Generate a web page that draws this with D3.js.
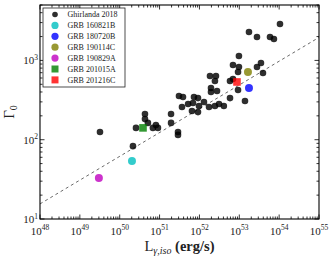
<!DOCTYPE html>
<html>
<head>
<meta charset="utf-8">
<script src="https://cdn.jsdelivr.net/npm/d3@7"></script>
<style>
  body { margin: 0; background: #fff; }
  text { font-family: 'Liberation Serif', 'DejaVu Serif', serif; fill: #222; }
</style>
</head>
<body>
<svg width="334" height="258"></svg>
<script>
// Ghirlanda 2018 sample: L_iso (erg/s) and Lorentz factor
const ghirlandaL = [3.2e49, 2.15e50, 2.56e50, 4.3e50, 4.3e50, 5.1e50, 6.8e50, 8.1e50, 9.1e50,
  1.94e51, 1.94e51, 2.9e51, 2.9e51, 3.07e51, 3.87e51, 3.65e51, 5.2e51, 6.9e51, 7.3e51, 9.2e51,
  9.75e51, 1.3e52, 1.74e52, 2.45e52, 3.1e52, 4.1e52, 6.5e51, 9.2e51, 1.84e52, 2.6e52, 2.45e52,
  1.95e52, 1.95e52, 2.76e52, 5.85e52, 6.95e52, 9.3e52, 5.85e52, 1.39e53, 9.8e52, 6.95e52,
  9.8e52, 9.3e52, 2.78e53, 3.5e53, 3.93e53, 1.75e53, 2.78e53, 5.9e53, 7.4e53, 1.05e54]
const ghirlandaG = [125, 83, 141, 211, 182, 163, 141, 153, 141,
  211, 163, 125, 115, 356, 345, 258, 282, 290, 345, 335,
  266, 299, 258, 266, 282, 266, 230, 223, 635, 635, 549,
  449, 399, 411, 549, 582, 424, 335, 308, 1135, 875,
  826, 714, 826, 927, 693, 2280, 1970, 1970, 1860, 2880]

// individual bursts
const grbNames = ['GRB 160821B', 'GRB 180720B', 'GRB 190114C', 'GRB 190829A', 'GRB 201015A', 'GRB 201216C']
const grbL = [2.03e50, 1.75e53, 1.65e53, 3.0e49, 3.84e50, 8.75e52]
const grbG = [53.8, 449, 714, 32.9, 141, 535]

// dashed relation, end points
const fitL = [1e48, 1e55]
const fitG = [15.5, 1950]

const xTicks = [1e48, 1e49, 1e50, 1e51, 1e52, 1e53, 1e54, 1e55]
const yTicks = [1e1, 1e2, 1e3]

const grbStyle = {
  'GRB 160821B': { color: '#00bfbf', shape: 'circle' },
  'GRB 180720B': { color: '#0000ff', shape: 'circle' },
  'GRB 190114C': { color: '#808000', shape: 'circle' },
  'GRB 190829A': { color: '#bf00bf', shape: 'circle' },
  'GRB 201015A': { color: '#008000', shape: 'square' },
  'GRB 201216C': { color: '#ff0000', shape: 'square' }
}

const svg = d3.select('svg')
const m = { left: 40, right: 15, top: 5, bottom: 39 }
const W = 334 - m.left - m.right
const H = 258 - m.top - m.bottom

const x = d3.scaleLog().domain([1e48, 1e55]).range([m.left, m.left + W])
const y = d3.scaleLog().domain([10, 5000]).range([m.top + H, m.top])

// minor ticks
function logTicks (lo, hi) {
  const out = []
  for (let e = lo; e < hi; e++) {
    for (let k = 1; k < 10; k++) out.push({ v: k * Math.pow(10, e), major: k === 1 })
  }
  out.push({ v: Math.pow(10, hi), major: true })
  return out
}
const xt = logTicks(48, 55)
const yt = logTicks(1, 4).filter(d => d.v <= 5000)

const axes = svg.append('g').attr('stroke', '#000')
axes.selectAll('.xb').data(xt).enter().append('line')
  .attr('x1', d => x(d.v)).attr('x2', d => x(d.v))
  .attr('y1', m.top + H).attr('y2', d => m.top + H - (d.major ? 4.5 : 2.5))
  .attr('stroke-width', 0.8)
axes.selectAll('.xt').data(xt).enter().append('line')
  .attr('x1', d => x(d.v)).attr('x2', d => x(d.v))
  .attr('y1', m.top).attr('y2', d => m.top + (d.major ? 4.5 : 2.5))
  .attr('stroke-width', 0.8)
axes.selectAll('.yl').data(yt).enter().append('line')
  .attr('y1', d => y(d.v)).attr('y2', d => y(d.v))
  .attr('x1', m.left).attr('x2', d => m.left + (d.major ? 4.5 : 2.5))
  .attr('stroke-width', 0.8)
axes.selectAll('.yr').data(yt).enter().append('line')
  .attr('y1', d => y(d.v)).attr('y2', d => y(d.v))
  .attr('x1', m.left + W).attr('x2', d => m.left + W - (d.major ? 4.5 : 2.5))
  .attr('stroke-width', 0.8)

// tick labels
const xl = svg.append('g').selectAll('text').data(xTicks).enter().append('text')
  .attr('x', d => x(d)).attr('y', m.top + H + 15.5)
  .attr('text-anchor', 'middle').attr('font-size', 11)
xl.append('tspan').text('10')
xl.append('tspan').attr('font-size', 7.5).attr('dy', -4.5).text(d => Math.round(Math.log10(d)))

const yl = svg.append('g').selectAll('text').data(yTicks).enter().append('text')
  .attr('x', m.left - 2).attr('y', d => y(d) + 4)
  .attr('text-anchor', 'end').attr('font-size', 11)
yl.append('tspan').text('10')
yl.append('tspan').attr('font-size', 7.5).attr('dy', -4.5).text(d => Math.round(Math.log10(d)))

// axis titles
const xlab = svg.append('text')
  .attr('x', m.left + W / 2).attr('y', 251)
  .attr('text-anchor', 'middle').attr('font-size', 14.5)
xlab.append('tspan').text('L')
xlab.append('tspan').attr('font-size', 10).attr('font-style', 'italic').attr('dy', 3).text('γ,iso')
xlab.append('tspan').attr('dy', -3).attr('font-weight', 'bold').text(' (erg/s)')

const ylab = svg.append('text')
  .attr('transform', `translate(14,${m.top + H / 2}) rotate(-90)`)
  .attr('text-anchor', 'middle').attr('font-size', 15)
ylab.append('tspan').text('Γ')
ylab.append('tspan').attr('font-size', 10).attr('dy', 3).text('0')

// relation
svg.append('line')
  .attr('x1', x(fitL[0])).attr('y1', y(fitG[0]))
  .attr('x2', x(fitL[1])).attr('y2', y(fitG[1]))
  .attr('stroke', '#444').attr('stroke-width', 0.8)
  .attr('stroke-dasharray', '3,3')

// sample
svg.append('g').selectAll('circle').data(d3.range(ghirlandaL.length)).enter().append('circle')
  .attr('cx', i => x(ghirlandaL[i])).attr('cy', i => y(ghirlandaG[i]))
  .attr('r', 3.3).attr('fill', '#000').attr('fill-opacity', 0.82)

// bursts
const grb = svg.append('g').selectAll('g').data(grbNames).enter().append('g')
  .attr('transform', (d, i) => `translate(${x(grbL[i])},${y(grbG[i])})`)
grb.filter(d => grbStyle[d].shape === 'circle').append('circle')
  .attr('r', 4).attr('fill', d => grbStyle[d].color).attr('fill-opacity', 0.8)
grb.filter(d => grbStyle[d].shape === 'square').append('rect')
  .attr('x', -3.8).attr('y', -3.8).attr('width', 7.6).attr('height', 7.6)
  .attr('fill', d => grbStyle[d].color).attr('fill-opacity', 0.8)

// frame
svg.append('rect')
  .attr('x', m.left).attr('y', m.top).attr('width', W).attr('height', H)
  .attr('fill', 'none').attr('stroke', '#000').attr('stroke-width', 1.1)

// legend
const leg = svg.append('g').attr('transform', 'translate(43,8)')
leg.append('rect').attr('width', 82).attr('height', 79)
  .attr('fill', '#fff').attr('stroke', '#222').attr('stroke-width', 0.8)
const items = ['Ghirlanda 2018'].concat(grbNames)
const row = leg.selectAll('.row').data(items).enter().append('g')
  .attr('transform', (d, i) => `translate(12,${6.5 + i * 10.9})`)
row.each(function (d) {
  const g = d3.select(this)
  if (d === 'Ghirlanda 2018') {
    g.append('circle').attr('r', 2.8).attr('fill', '#000').attr('fill-opacity', 0.82)
  } else if (grbStyle[d].shape === 'circle') {
    g.append('circle').attr('r', 3.6).attr('fill', grbStyle[d].color).attr('fill-opacity', 0.8)
  } else {
    g.append('rect').attr('x', -3.5).attr('y', -3.5).attr('width', 7).attr('height', 7)
      .attr('fill', grbStyle[d].color).attr('fill-opacity', 0.8)
  }
})
row.append('text').attr('x', 12.5).attr('y', 2.8).attr('font-size', 8).text(d => d)
</script>
</body>
</html>
